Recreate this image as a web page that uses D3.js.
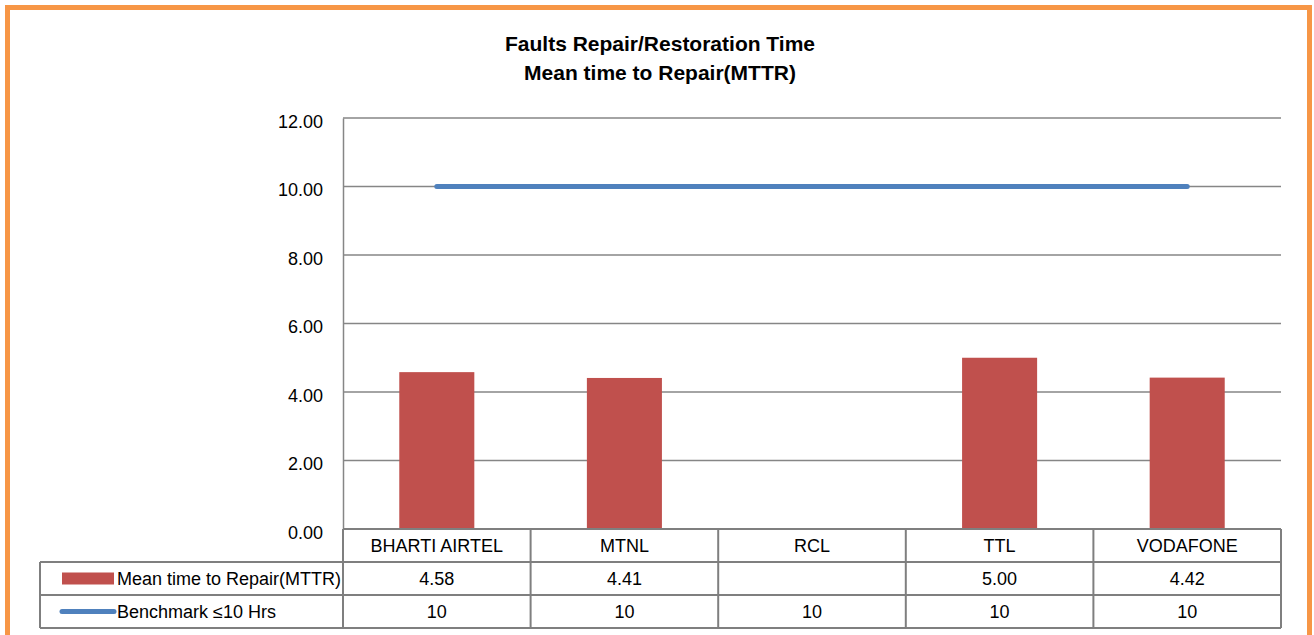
<!DOCTYPE html>
<html><head><meta charset="utf-8">
<script src="https://cdn.jsdelivr.net/npm/d3@7"></script>
<style>
html,body{margin:0;padding:0;background:#fff;}
svg{display:block;}
text{font-family:"Liberation Sans Narrow","Arial Narrow","Liberation Sans",Arial,sans-serif;fill:#000;}
</style></head>
<body>
<script>
const categories = ["BHARTI AIRTEL","MTNL","RCL","TTL","VODAFONE"];
const mttrValues = [4.58, 4.41, null, 5.00, 4.42];
const benchmarkValues = [10, 10, 10, 10, 10];
const seriesNames = ["Mean time to Repair(MTTR)", "Benchmark \u226410 Hrs"];
const yTicks = [0, 2, 4, 6, 8, 10, 12];
const titleLines = ["Faults Repair/Restoration Time", "Mean time to Repair(MTTR)"];

const W = 1314, H = 635;
const svg = d3.select("body").append("svg").attr("width", W).attr("height", H);

// orange frame
svg.append("rect").attr("x", 7.5).attr("y", 7.5).attr("width", 1302).attr("height", 640)
  .attr("fill", "none").attr("stroke", "#f79646").attr("stroke-width", 5);

const plotL = 343, plotR = 1281, plotT = 118, plotB = 529;
const x = d3.scaleBand().domain(categories).range([plotL, plotR]);
const y = d3.scaleLinear().domain([0, 12]).range([plotB, plotT]);

// title
svg.append("g").selectAll("text").data(titleLines).join("text")
  .attr("x", 660).attr("y", (d, i) => 51 + i * 29)
  .attr("text-anchor", "middle").attr("font-weight", "bold").attr("font-size", 21)
  .text(d => d);

// gridlines
svg.append("g").selectAll("line").data(yTicks).join("line")
  .attr("x1", plotL).attr("x2", plotR)
  .attr("y1", d => y(d)).attr("y2", d => y(d))
  .attr("stroke", "#868686").attr("stroke-width", 1.3);

// y axis
const yAxis = d3.axisLeft(y).tickValues(yTicks).tickFormat(d3.format(".2f")).tickSize(0).tickPadding(20);
const ga = svg.append("g").attr("transform", `translate(${plotL},0)`).call(yAxis);
ga.select(".domain").attr("stroke", "#868686").attr("stroke-width", 1.5);
ga.selectAll("text").attr("font-size", 18).attr("font-family", "'Liberation Sans Narrow','Arial Narrow','Liberation Sans',sans-serif").attr("dy", "0.5em");

// bars
const bw = x.bandwidth() * 0.4;
svg.append("g").selectAll("rect").data(categories.map((c, i) => ({c, v: mttrValues[i]})).filter(d => d.v != null))
  .join("rect")
  .attr("x", d => x(d.c) + (x.bandwidth() - bw) / 2)
  .attr("width", bw)
  .attr("y", d => y(d.v))
  .attr("height", d => y(0) - y(d.v))
  .attr("fill", "#c0504d");

// benchmark line
const line = d3.line().x((d, i) => x(categories[i]) + x.bandwidth() / 2).y(d => y(d));
svg.append("path").datum(benchmarkValues).attr("d", line)
  .attr("fill", "none").attr("stroke", "#4f81bd").attr("stroke-width", 5).attr("stroke-linecap", "round");

// data table
const rowY = [529, 562, 595, 628];
const tableL = 40;
const tg = svg.append("g");
const gridStroke = "#7f7f7f";
tg.append("line").attr("x1", plotL).attr("x2", plotR).attr("y1", rowY[0]).attr("y2", rowY[0]).attr("stroke", gridStroke).attr("stroke-width", 2);
[1, 2, 3].forEach(r => {
  tg.append("line").attr("x1", tableL).attr("x2", plotR).attr("y1", rowY[r]).attr("y2", rowY[r]).attr("stroke", gridStroke).attr("stroke-width", 2);
});
tg.append("line").attr("x1", tableL).attr("x2", tableL).attr("y1", rowY[1]).attr("y2", rowY[3]).attr("stroke", gridStroke).attr("stroke-width", 2);
const vx = categories.map(c => x(c)).concat([plotR]);
tg.selectAll("line.v").data(vx).join("line").attr("class", "v")
  .attr("x1", d => d).attr("x2", d => d).attr("y1", rowY[0]).attr("y2", rowY[3])
  .attr("stroke", gridStroke).attr("stroke-width", 2);

tg.selectAll("text.cat").data(categories).join("text").attr("class", "cat")
  .attr("x", d => x(d) + x.bandwidth() / 2).attr("y", (rowY[0] + rowY[1]) / 2 + 6)
  .attr("text-anchor", "middle").attr("font-size", 18).text(d => d);
tg.selectAll("text.m").data(mttrValues).join("text").attr("class", "m")
  .attr("x", (d, i) => x(categories[i]) + x.bandwidth() / 2).attr("y", (rowY[1] + rowY[2]) / 2 + 6)
  .attr("text-anchor", "middle").attr("font-size", 18).text(d => d == null ? "" : d3.format(".2f")(d));
tg.selectAll("text.b").data(benchmarkValues).join("text").attr("class", "b")
  .attr("x", (d, i) => x(categories[i]) + x.bandwidth() / 2).attr("y", (rowY[2] + rowY[3]) / 2 + 6)
  .attr("text-anchor", "middle").attr("font-size", 18).text(d => d);

tg.append("rect").attr("x", 62).attr("y", (rowY[1] + rowY[2]) / 2 - 6).attr("width", 52).attr("height", 12).attr("fill", "#c0504d");
tg.append("line").attr("x1", 62).attr("x2", 114).attr("y1", (rowY[2] + rowY[3]) / 2).attr("y2", (rowY[2] + rowY[3]) / 2)
  .attr("stroke", "#4f81bd").attr("stroke-width", 5).attr("stroke-linecap", "round");
tg.selectAll("text.s").data(seriesNames).join("text").attr("class", "s")
  .attr("x", 117).attr("y", (d, i) => (rowY[i + 1] + rowY[i + 2]) / 2 + 6)
  .attr("font-size", 18).text(d => d);
</script>
</body></html>
